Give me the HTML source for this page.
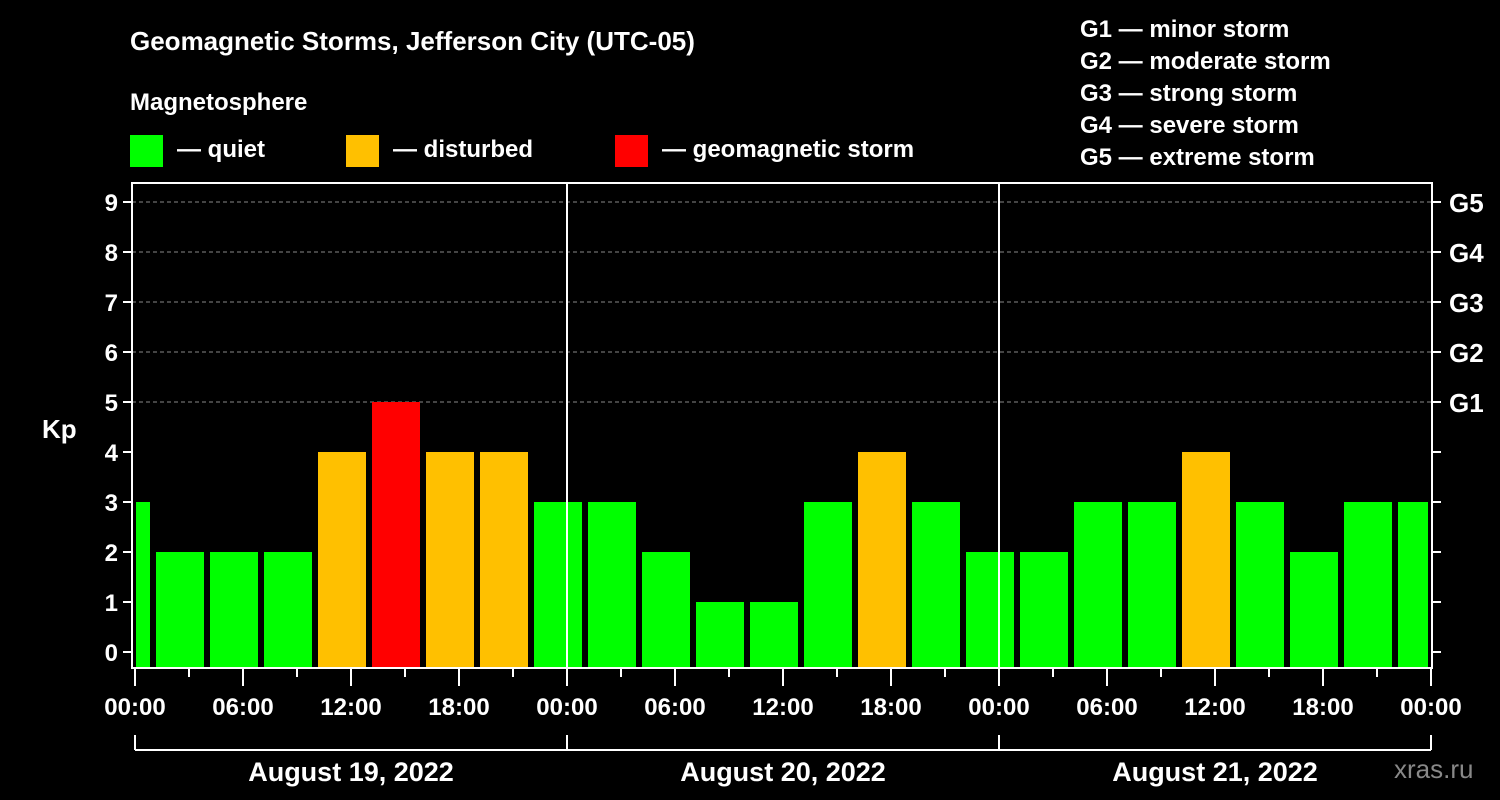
<!DOCTYPE html>
<html><head><meta charset="utf-8"><style>
body{margin:0;background:#000;}
svg{display:block;font-family:"Liberation Sans",Arial,sans-serif;font-weight:bold;}
</style></head><body>
<svg id="c" width="1500" height="800" viewBox="0 0 1500 800">
<rect width="1500" height="800" fill="#000"/>
<text x="130" y="50" fill="#fff" font-size="26">Geomagnetic Storms, Jefferson City (UTC-05)</text>
<text x="130" y="110" fill="#fff" font-size="24">Magnetosphere</text>
<g><rect x="130" y="135" width="33" height="32" fill="#00ff00"/><text x="177" y="157" fill="#fff" font-size="24">— quiet</text></g>
<g><rect x="346" y="135" width="33" height="32" fill="#ffc000"/><text x="393" y="157" fill="#fff" font-size="24">— disturbed</text></g>
<g><rect x="615" y="135" width="33" height="32" fill="#ff0000"/><text x="662" y="157" fill="#fff" font-size="24">— geomagnetic storm</text></g>
<g fill="#fff" font-size="24">
<text x="1080" y="37">G1 — minor storm</text><text x="1080" y="69">G2 — moderate storm</text><text x="1080" y="101">G3 — strong storm</text><text x="1080" y="133">G4 — severe storm</text><text x="1080" y="165">G5 — extreme storm</text></g>
<text x="42" y="438" fill="#fff" font-size="26">Kp</text>
<text x="1394" y="778" fill="#888" font-size="26" font-weight="normal">xras.ru</text>
<g id="grid"></g><g id="bars"></g><g id="axes"></g>
</svg>
<script>
const kpValues=[3,2,2,2,4,5,4,4,3,3,2,1,1,3,4,3,2,2,3,3,4,3,2,3,3];
const barStartHours=[-2,1,4,7,10,13,16,19,22,25,28,31,34,37,40,43,46,49,52,55,58,61,64,67,70];
const tickLabels=["00:00","06:00","12:00","18:00"];
const dayLabels=["August 19, 2022","August 20, 2022","August 21, 2022"];
const gLabels=["G1","G2","G3","G4","G5"];
const NS="http://www.w3.org/2000/svg";
const L=132,R=1432,T=183,B=668,X0=135,PXH=18;
const xs=h=>X0+h*PXH, ys=v=>652-v*50;
function mk(p,t,a){const e=document.createElementNS(NS,t);for(const k in a)e.setAttribute(k,a[k]);p.appendChild(e);return e;}
const grid=document.getElementById('grid'),bars=document.getElementById('bars'),axes=document.getElementById('axes');
for(let v=5;v<=9;v++){const l=mk(grid,'line',{x1:L,x2:R,y1:ys(v),y2:ys(v),stroke:'#888','stroke-dasharray':'4,3'});

}
kpValues.forEach((v,i)=>{
 let x1=Math.max(xs(barStartHours[i])+3,L+4), x2=Math.min(xs(barStartHours[i]+3)-3,R-4);
 const c=v>=5?'#ff0000':v>=4?'#ffc000':'#00ff00';
 const r=mk(bars,'rect',{x:x1,y:ys(v),width:x2-x1,height:B-1-ys(v),fill:c});
 
 
});
mk(axes,'rect',{x:L,y:T,width:R-L,height:B-T,fill:'none',stroke:'#fff','stroke-width':2});
[1,2].forEach(d=>{const l=mk(axes,'line',{x1:xs(24*d),x2:xs(24*d),y1:T,y2:B,stroke:'#fff','stroke-width':2});

});
for(let v=0;v<=9;v++){
 mk(axes,'line',{x1:L-9,x2:L,y1:ys(v),y2:ys(v),stroke:'#fff','stroke-width':2});
 mk(axes,'line',{x1:R,x2:R+9,y1:ys(v),y2:ys(v),stroke:'#fff','stroke-width':2});
 const t=mk(axes,'text',{x:L-14,y:ys(v)+9,fill:'#fff','font-size':24,'text-anchor':'end'});t.textContent=v;
 
 
 if(v>=5){const g=mk(axes,'text',{x:R+17,y:ys(v)+10,fill:'#fff','font-size':26});g.textContent=gLabels[v-5];
 
 }
}
for(let h=0;h<=72;h+=3){
 const major=h%6===0;
 mk(axes,'line',{x1:xs(h),x2:xs(h),y1:B,y2:major?B+18:B+9,stroke:'#fff','stroke-width':2});
 if(major){const t=mk(axes,'text',{x:xs(h),y:715,fill:'#fff','font-size':24,'text-anchor':'middle'});t.textContent=tickLabels[(h%24)/6];
 
 }
}
mk(axes,'line',{x1:xs(0),x2:xs(72),y1:750,y2:750,stroke:'#fff','stroke-width':2});
for(let d=0;d<=3;d++)mk(axes,'line',{x1:xs(24*d),x2:xs(24*d),y1:735,y2:750,stroke:'#fff','stroke-width':2});
dayLabels.forEach((s,d)=>{const t=mk(axes,'text',{x:xs(24*d+12),y:781,fill:'#fff','font-size':27,'text-anchor':'middle'});t.textContent=s;
 
 });
</script>
</body></html>
